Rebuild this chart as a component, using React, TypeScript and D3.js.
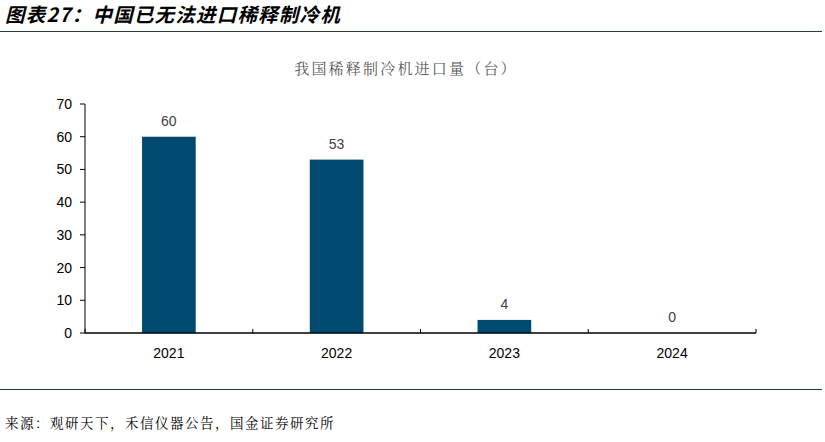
import React from "react";
import * as d3 from "d3";

const categories = ["2021", "2022", "2023", "2024"];
const values = [60, 53, 4, 0];
const yTicks = [0, 10, 20, 30, 40, 50, 60, 70];
const pageTitle = "图表27：中国已无法进口稀释制冷机";
const chartTitle = "我国稀释制冷机进口量（台）";
const sourceText = "来源：观研天下，禾信仪器公告，国金证券研究所";

export default function App() {
  const W = 825, H = 442;
  const left = 85, right = 756, top = 104, bottom = 333;
  const x = d3.scaleBand<string>().domain(categories).range([left, right]).paddingInner(0.68).paddingOuter(0.34);
  const y = d3.scaleLinear().domain([0, 70]).range([bottom, top]);
  const step = (right - left) / categories.length;
  const barColor = "#004A6F";
  const lineColor = "#1B3F5E";
  const sans = "'Liberation Sans', Arial, sans-serif";
  const serif = "'Noto Serif CJK SC', 'Noto Sans CJK SC', serif";
  return (
    <svg width={W} height={H} style={{ position: "absolute", left: 0, top: 0, background: "#fff" }}>
      <text x={5} y={22} fontSize={19.5} letterSpacing={1.2} fontWeight="bold" fontStyle="italic" fontFamily="'Noto Sans CJK SC', sans-serif" fill="#000">{pageTitle}</text>
      <line x1={0} x2={822} y1={31.5} y2={31.5} stroke={lineColor} strokeWidth={1.2} />
      <text x={406} y={74} textAnchor="middle" fontSize={15} letterSpacing={2.2} fontFamily={serif} fill="#595959">{chartTitle}</text>
      {/* y axis */}
      <line x1={left} x2={left} y1={top} y2={bottom} stroke="#000" strokeWidth={1} />
      {yTicks.map(t => (
        <g key={t}>
          <line x1={left - 5} x2={left} y1={y(t)} y2={y(t)} stroke="#000" />
          <text x={left - 13} y={y(t) + 5} textAnchor="end" fontSize={14} fontFamily={sans} fill="#000">{t}</text>
        </g>
      ))}
      {/* bars */}
      {categories.map((c, i) => (
        <g key={c}>
          {values[i] > 0 && (
            <rect x={x(c)} y={y(values[i])} width={x.bandwidth()} height={y(0) - y(values[i])} fill={barColor} />
          )}
          <text x={(x(c) as number) + x.bandwidth() / 2} y={y(values[i]) - 11} textAnchor="middle" fontSize={14} fontFamily={sans} fill="#404040">{values[i]}</text>
          <text x={(x(c) as number) + x.bandwidth() / 2} y={bottom + 25} textAnchor="middle" fontSize={14} fontFamily={sans} fill="#000">{c}</text>
        </g>
      ))}
      {/* x axis */}
      <line x1={left} x2={right} y1={bottom} y2={bottom} stroke="#000" strokeWidth={1.3} />
      {d3.range(categories.length + 1).map(i => (
        <line key={i} x1={left + i * step} x2={left + i * step} y1={bottom - 4} y2={bottom} stroke="#000" />
      ))}
      <line x1={0} x2={822} y1={389.5} y2={389.5} stroke={lineColor} strokeWidth={1.2} />
      <text x={5} y={428} fontSize={13.5} letterSpacing={1.5} fontFamily={serif} fill="#000">{sourceText}</text>
    </svg>
  );
}
